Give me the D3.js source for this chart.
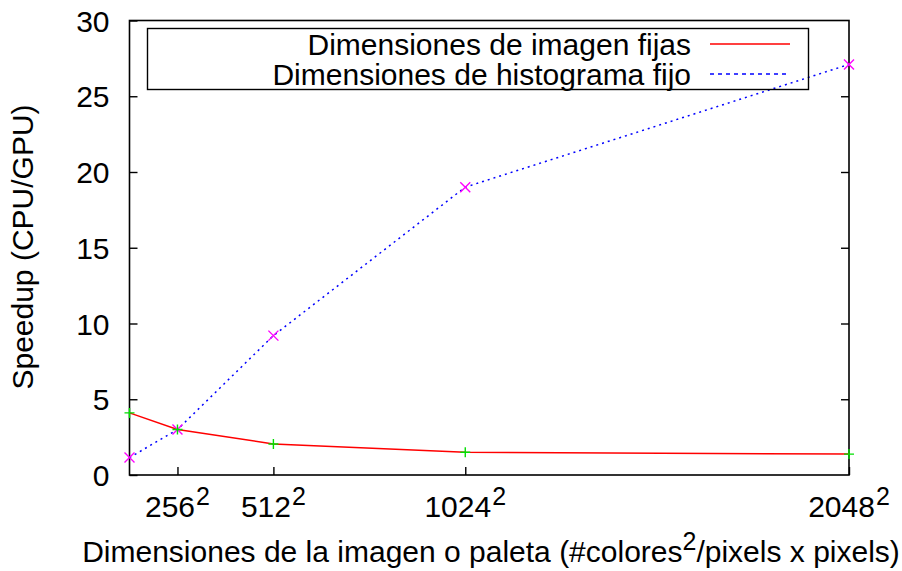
<!DOCTYPE html>
<html>
<head>
<meta charset="utf-8">
<script src="https://cdn.jsdelivr.net/npm/d3@7"></script>
<style>
  html, body { margin: 0; padding: 0; background: #fff; }
  svg { display: block; font-family: "Liberation Sans", Arial, Helvetica, sans-serif; }
</style>
</head>
<body>
<svg id="chart" width="902" height="571"></svg>
<script>
// Image / palette side length (value is squared on the axis)
const sizes = [128, 256, 512, 1024, 2048];
// Speedup with fixed image dimensions
const speedupFixedImage = [4.1, 3.0, 2.05, 1.5, 1.38];
// Speedup with fixed histogram
const speedupFixedHist = [1.15, 3.0, 9.2, 19.0, 27.1];
const xTicks = [256, 512, 1024, 2048];
const yTicks = [0, 5, 10, 15, 20, 25, 30];
const seriesNames = ["Dimensiones de imagen fijas", "Dimensiones de histograma fijo"];

const svg = d3.select("#chart");
const plotL = 129.5, plotR = 849, plotT = 20.5, plotB = 475;
const fs = 30, supFs = 25;

const x = d3.scaleLinear().domain([128, 2048]).range([plotL, plotR]);
const y = d3.scaleLinear().domain([0, 30]).range([plotB, plotT]);

// Frame
svg.append("rect")
  .attr("x", plotL).attr("y", plotT)
  .attr("width", plotR - plotL).attr("height", plotB - plotT)
  .attr("fill", "none").attr("stroke", "#000").attr("stroke-width", 1.6);

// Y ticks (left and mirrored right, pointing inward)
const yAxisL = d3.axisLeft(y).tickValues(yTicks).tickSizeInner(-8).tickSizeOuter(0).tickPadding(20);
const gyl = svg.append("g").attr("transform", `translate(${plotL},0)`).call(yAxisL);
gyl.select(".domain").remove();
gyl.selectAll("line").attr("stroke", "#000").attr("stroke-width", 1.4);
gyl.selectAll("text").attr("font-size", fs).attr("fill", "#000")
  .attr("font-family", "Liberation Sans, Arial, sans-serif").attr("dy", "0.35em");

const yAxisR = d3.axisRight(y).tickValues(yTicks.slice(1, -1)).tickSizeInner(-8).tickSizeOuter(0).tickFormat("");
const gyr = svg.append("g").attr("transform", `translate(${plotR},0)`).call(yAxisR);
gyr.select(".domain").remove();
gyr.selectAll("line").attr("stroke", "#000").attr("stroke-width", 1.4);

// X ticks (bottom, inward) with squared labels
const xAxis = d3.axisBottom(x).tickValues(xTicks).tickSizeInner(-8).tickSizeOuter(0).tickFormat("");
const gx = svg.append("g").attr("transform", `translate(0,${plotB})`).call(xAxis);
gx.select(".domain").remove();
gx.selectAll("line").attr("stroke", "#000").attr("stroke-width", 1.4);

xTicks.forEach(v => {
  const t = svg.append("text")
    .attr("x", x(v)).attr("y", 517)
    .attr("text-anchor", "middle").attr("font-size", fs).attr("fill", "#000");
  t.append("tspan").text(String(v));
  t.append("tspan").attr("dx", 1).attr("dy", -12).attr("font-size", supFs).text("2");
});

// Axis titles
svg.append("text")
  .attr("transform", `translate(33,247) rotate(-90)`)
  .attr("text-anchor", "middle").attr("font-size", fs).attr("fill", "#000")
  .text("Speedup (CPU/GPU)");

const xl = svg.append("text")
  .attr("x", 491).attr("y", 562)
  .attr("text-anchor", "middle").attr("font-size", fs).attr("fill", "#000");
xl.append("tspan").text("Dimensiones de la imagen o paleta (#colores");
xl.append("tspan").attr("dy", -12).attr("font-size", supFs).text("2");
xl.append("tspan").attr("dy", 12).text("/pixels x pixels)");

// Series lines
const line = d3.line().x(d => x(d[0])).y(d => y(d[1]));
const dataA = sizes.map((s, i) => [s, speedupFixedImage[i]]);
const dataB = sizes.map((s, i) => [s, speedupFixedHist[i]]);

svg.append("path").datum(dataA).attr("d", line)
  .attr("fill", "none").attr("stroke", "#ff0000").attr("stroke-width", 1.5);
svg.append("path").datum(dataB).attr("d", line)
  .attr("fill", "none").attr("stroke", "#0000ff").attr("stroke-width", 1.5)
  .attr("stroke-dasharray", "2,4");

// Point markers
const plus = (g, cx, cy, s, c) => {
  g.append("path").attr("d", `M${cx - s},${cy}H${cx + s}M${cx},${cy - s}V${cy + s}`)
    .attr("stroke", c).attr("stroke-width", 1.4).attr("fill", "none");
};
const cross = (g, cx, cy, s, c) => {
  g.append("path").attr("d", `M${cx - s},${cy - s}L${cx + s},${cy + s}M${cx - s},${cy + s}L${cx + s},${cy - s}`)
    .attr("stroke", c).attr("stroke-width", 1.4).attr("fill", "none");
};
const gm = svg.append("g");
dataB.forEach(d => cross(gm, x(d[0]), y(d[1]), 5, "#ff00ff"));
dataA.forEach(d => plus(gm, x(d[0]), y(d[1]), 5, "#00e000"));

// Legend
const lg = svg.append("g");
lg.append("rect").attr("x", 147.5).attr("y", 28.5).attr("width", 661).attr("height", 61)
  .attr("fill", "none").attr("stroke", "#000").attr("stroke-width", 1.4);
const rows = [44, 74];
seriesNames.forEach((n, i) => {
  lg.append("text").attr("x", 691).attr("y", rows[i]).attr("dy", "0.35em")
    .attr("text-anchor", "end").attr("font-size", fs).attr("fill", "#000").text(n);
});
lg.append("line").attr("x1", 710).attr("x2", 790).attr("y1", rows[0]).attr("y2", rows[0])
  .attr("stroke", "#ff0000").attr("stroke-width", 1.5);
lg.append("line").attr("x1", 710).attr("x2", 790).attr("y1", rows[1]).attr("y2", rows[1])
  .attr("stroke", "#0000ff").attr("stroke-width", 1.5).attr("stroke-dasharray", "4,4");
</script>
</body>
</html>
